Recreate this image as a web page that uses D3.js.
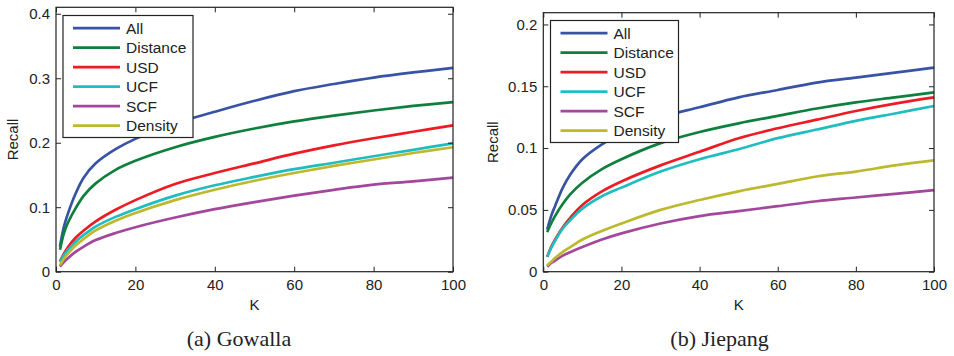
<!DOCTYPE html>
<html>
<head>
<meta charset="utf-8">
<script src="https://cdn.jsdelivr.net/npm/d3@7"></script>
<style>
	body { margin: 0; background: #fff; }
	svg { display: block; }
	.tick text { font-family: "Liberation Sans", Arial, sans-serif; font-size: 15px; fill: #222; }
	.tick line { stroke: #222; }
	.lbl { font-family: "Liberation Sans", Arial, sans-serif; font-size: 15px; fill: #222; }
	.cap { font-family: "Liberation Serif", "DejaVu Serif", serif; font-size: 22px; fill: #222; }
</style>
</head>
<body>
<script>
//data
var kValues = [1, 2, 3, 5, 7, 10, 15, 20, 30, 40, 50, 60, 70, 80, 90, 100];
var methods = ["All", "Distance", "USD", "UCF", "SCF", "Density"];
var colors = ["#3953a4", "#0f7f3d", "#ed1c24", "#1fbcc0", "#a3479c", "#bcb92e"];

//(a) Gowalla
var gowAll      = [0.039, 0.070, 0.090, 0.122, 0.146, 0.168, 0.190, 0.206, 0.230, 0.248, 0.265, 0.280, 0.291, 0.301, 0.309, 0.316];
var gowDistance = [0.034, 0.060, 0.076, 0.099, 0.118, 0.137, 0.158, 0.172, 0.193, 0.209, 0.222, 0.233, 0.242, 0.250, 0.257, 0.263];
var gowUSD      = [0.016, 0.028, 0.038, 0.053, 0.064, 0.078, 0.096, 0.111, 0.136, 0.153, 0.168, 0.183, 0.196, 0.207, 0.217, 0.227];
var gowUCF      = [0.015, 0.026, 0.034, 0.047, 0.057, 0.070, 0.085, 0.097, 0.118, 0.134, 0.147, 0.159, 0.169, 0.179, 0.189, 0.199];
var gowSCF      = [0.008, 0.015, 0.021, 0.031, 0.039, 0.049, 0.060, 0.069, 0.084, 0.097, 0.108, 0.118, 0.127, 0.135, 0.140, 0.146];
var gowDensity  = [0.010, 0.020, 0.028, 0.041, 0.051, 0.064, 0.079, 0.091, 0.111, 0.127, 0.141, 0.153, 0.164, 0.174, 0.184, 0.193];

//(b) Jiepang
var jieAll      = [0.034, 0.045, 0.053, 0.068, 0.079, 0.091, 0.103, 0.112, 0.125, 0.133, 0.141, 0.147, 0.153, 0.157, 0.161, 0.165];
var jieDistance = [0.032, 0.039, 0.045, 0.055, 0.063, 0.072, 0.083, 0.091, 0.104, 0.113, 0.120, 0.126, 0.132, 0.137, 0.141, 0.145];
var jieUSD      = [0.012, 0.020, 0.026, 0.036, 0.044, 0.054, 0.065, 0.073, 0.086, 0.097, 0.108, 0.116, 0.123, 0.130, 0.136, 0.141];
var jieUCF      = [0.012, 0.019, 0.025, 0.035, 0.042, 0.051, 0.061, 0.068, 0.081, 0.091, 0.099, 0.108, 0.115, 0.122, 0.128, 0.134];
var jieSCF      = [0.004, 0.007, 0.009, 0.013, 0.016, 0.020, 0.026, 0.031, 0.039, 0.045, 0.049, 0.053, 0.057, 0.060, 0.063, 0.066];
var jieDensity  = [0.005, 0.008, 0.011, 0.016, 0.020, 0.026, 0.033, 0.039, 0.050, 0.058, 0.065, 0.071, 0.077, 0.081, 0.086, 0.090];

var xTicks = [0, 20, 40, 60, 80, 100];
var yTicksA = [0, 0.1, 0.2, 0.3, 0.4];
var yTicksB = [0, 0.05, 0.1, 0.15, 0.2];

var w = 954, h = 356;

var svg = d3.select("body").append("svg")
	.attr("width", w)
	.attr("height", h);

//one panel = box, ticks, lines, legend
function drawPanel(p){
	var x = d3.scaleLinear().domain([0, 100]).range([p.left, p.right]);
	var y = d3.scaleLinear().domain([0, p.yMax]).range([p.bottom, p.top]);

	var g = svg.append("g");

	//lines first
	var line = d3.line()
		.x(function(d){ return x(d[0]); })
		.y(function(d){ return y(d[1]); })
		.curve(d3.curveCatmullRom.alpha(0.5));

	p.series.forEach(function(vals, i){
		g.append("path")
			.datum(kValues.map(function(k, j){ return [k, vals[j]]; }))
			.attr("d", line)
			.attr("fill", "none")
			.attr("stroke", colors[i])
			.attr("stroke-width", 2.7)
			.attr("stroke-linejoin", "round");
	});

	//axes, ticks inside like matlab
	g.append("g")
		.attr("transform", "translate(0," + p.bottom + ")")
		.call(d3.axisBottom(x).tickValues(xTicks).tickSize(-5).tickPadding(8).tickFormat(d3.format("d")))
		.call(function(a){ a.select(".domain").remove(); a.selectAll("text").attr("font-size", null).attr("font-family", null); });
	g.append("g")
		.attr("transform", "translate(0," + p.top + ")")
		.call(d3.axisTop(x).tickValues(xTicks).tickSize(-5).tickFormat(""))
		.call(function(a){ a.select(".domain").remove(); });
	g.append("g")
		.attr("transform", "translate(" + p.left + ",0)")
		.call(d3.axisLeft(y).tickValues(p.yTicks).tickSize(-5).tickPadding(6).tickFormat(function(d){ return String(d); }))
		.call(function(a){ a.select(".domain").remove(); a.selectAll("text").attr("font-size", null).attr("font-family", null); });
	g.append("g")
		.attr("transform", "translate(" + p.right + ",0)")
		.call(d3.axisRight(y).tickValues(p.yTicks).tickSize(-5).tickFormat(""))
		.call(function(a){ a.select(".domain").remove(); });

	//frame
	g.append("rect")
		.attr("x", p.left)
		.attr("y", p.top)
		.attr("width", p.right - p.left)
		.attr("height", p.bottom - p.top)
		.attr("fill", "none")
		.attr("stroke", "#222")
		.attr("stroke-width", 1.2);

	//axis titles
	g.append("text")
		.attr("class", "lbl")
		.attr("text-anchor", "middle")
		.attr("x", (p.left + p.right) / 2)
		.attr("y", 310)
		.text("K");
	g.append("text")
		.attr("class", "lbl")
		.attr("text-anchor", "middle")
		.attr("transform", "translate(" + p.ylabX + "," + ((p.top + p.bottom) / 2) + ") rotate(-90)")
		.attr("dy", "0.35em")
		.text("Recall");

	//legend
	var lg = g.append("g").attr("transform", "translate(" + p.legX + "," + p.legY + ")");
	lg.append("rect")
		.attr("x", 0).attr("y", 0)
		.attr("width", p.legW).attr("height", 122)
		.attr("fill", "#fff")
		.attr("stroke", "#222")
		.attr("stroke-width", 1.2);
	methods.forEach(function(m, i){
		var yy = 12.7 + i * 19.5;
		lg.append("line")
			.attr("x1", 10).attr("x2", 57)
			.attr("y1", yy).attr("y2", yy)
			.attr("stroke", colors[i])
			.attr("stroke-width", 2.8);
		lg.append("text")
			.attr("class", "lbl")
			.attr("x", 63)
			.attr("y", yy)
			.attr("dy", "0.35em")
			.style("font-size", "15.5px")
			.text(m);
	});

	//caption
	g.append("text")
		.attr("class", "cap")
		.attr("text-anchor", "middle")
		.attr("x", p.capX)
		.attr("y", 346)
		.text(p.caption);
}

drawPanel({
	left: 56, right: 453, top: 7.3, bottom: 271.7, yMax: 0.41,
	yTicks: yTicksA,
	series: [gowAll, gowDistance, gowUSD, gowUCF, gowSCF, gowDensity],
	legX: 63, legY: 15.5, legW: 130,
	ylabX: 13, capX: 239, caption: "(a) Gowalla"
});

drawPanel({
	left: 543.3, right: 934, top: 12.7, bottom: 271.7, yMax: 0.2095,
	yTicks: yTicksB,
	series: [jieAll, jieDistance, jieUSD, jieUCF, jieSCF, jieDensity],
	legX: 550.5, legY: 20.5, legW: 128,
	ylabX: 492.5, capX: 719.5, caption: "(b) Jiepang"
});
</script>
</body>
</html>
